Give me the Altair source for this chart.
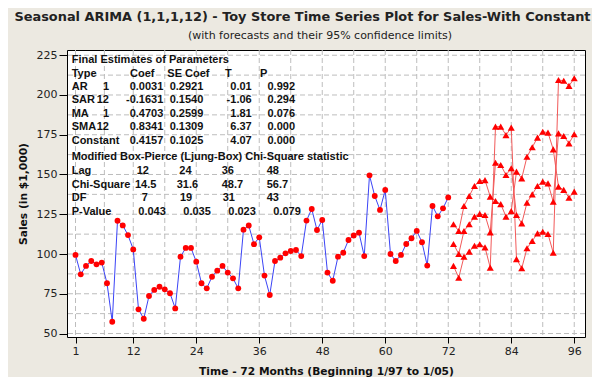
import altair as alt
import pandas as pd

# ---------------- data ----------------
months = list(range(1, 73))
sales = [99.4, 87.2, 92.5, 95.6, 93.5, 94.6, 81.6, 57.4, 120.9, 118.0, 111.9, 102.9,
         65.2, 59.3, 73.6, 77.4, 79.4, 77.8, 75.3, 65.8, 98.3, 103.8, 103.8, 95.2,
         81.6, 78.4, 85.7, 89.5, 92.5, 88.3, 84.7, 78.4, 115.3, 117.9, 106.2, 110.5,
         86.4, 74.2, 95.6, 97.7, 100.4, 101.9, 102.5, 98.7, 121.0, 128.3, 115.1, 121.4,
         88.3, 83.2, 98.3, 100.8, 108.8, 111.7, 113.4, 98.7, 149.5, 136.5, 127.7, 140.3,
         100.0, 95.6, 99.4, 106.3, 109.9, 114.5, 107.4, 92.7, 130.2, 123.7, 128.7, 135.6]

fc_months = list(range(73, 97))
upper = [118.7, 114.5, 130.2, 136.5, 142.8, 145.9, 146.5, 136.1,
         180.1, 180.1, 174.8, 179.5, 151.8, 147.6, 161.2, 167.1,
         173.2, 176.9, 176.3, 165.8, 209.4, 209.0, 205.7, 210.5]
forecast = [106.3, 100.0, 114.5, 118.7, 123.5, 125.2, 124.5, 113.6,
            157.4, 156.0, 149.7, 153.9, 124.5, 119.3, 132.3, 137.5,
            142.8, 145.5, 144.4, 132.9, 175.9, 174.2, 169.6, 175.3]
lower = [92.5, 85.1, 98.3, 101.5, 105.2, 106.1, 104.2, 91.4,
         133.3, 131.4, 123.5, 127.0, 96.8, 91.0, 103.6, 108.2,
         113.0, 114.0, 112.6, 100.8, 142.4, 140.3, 135.4, 139.2]

x_ticks = [1, 12, 24, 36, 48, 60, 72, 84, 96]
x_grid = [1, 6.5, 12, 18, 24, 30, 36, 42, 48, 54, 60, 66, 72, 78, 84, 90, 96]
y_ticks = [50, 75, 100, 125, 150, 175, 200, 225]
y_grid = [50, 62.5, 75, 87.5, 100, 112.5, 125, 137.5, 150, 162.5, 175, 187.5, 200, 212.5, 225]

title_text = "Seasonal ARIMA (1,1,1,12) - Toy Store Time Series Plot for Sales-With Constant"
subtitle_text = "(with forecasts and their 95% confidence limits)"
x_title = "Time - 72 Months (Beginning 1/97 to 1/05)"
y_title = "Sales (in $1,000)"

param_head = ["Type", "Coef", "SE Coef", "T", "P"]
param_rows = [
    ["AR", "1", "0.0031", "0.2921", "0.01", "0.992"],
    ["SAR", "12", "-0.1631", "0.1540", "-1.06", "0.294"],
    ["MA", "1", "0.4703", "0.2599", "1.81", "0.076"],
    ["SMA", "12", "0.8341", "0.1309", "6.37", "0.000"],
    ["Constant", "", "0.4157", "0.1025", "4.07", "0.000"],
]
lb_rows = [
    ["Lag", "12", "24", "36", "48"],
    ["Chi-Square", "14.5", "31.6", "48.7", "56.7"],
    ["DF", "7", "19", "31", "43"],
    ["P-Value", "0.043", "0.035", "0.023", "0.079"],
]

# ---------------- tables ----------------
hist = pd.DataFrame({"t": months, "v": sales})

# the reference connects the bands with crossing lines at the seasonal jumps
pathA = upper[0:8] + lower[8:12] + upper[12:20] + lower[20:24]
pathC = lower[0:8] + upper[8:12] + lower[12:20] + upper[20:24]
fc_lines = pd.DataFrame({
    "t": fc_months * 3,
    "v": pathA + forecast + pathC,
    "path": ["A"] * 24 + ["B"] * 24 + ["C"] * 24,
})
fc_pts = pd.DataFrame({"t": fc_months * 3, "v": upper + forecast + lower})

# ---------------- styling ----------------
FONT = "DejaVu Sans"
TFONT = "Liberation Sans"
W, H = 518, 287
xs = alt.Scale(domain=[-0.62, 98.05], nice=False, zero=False)
ys = alt.Scale(domain=[47.8, 228.3], nice=False, zero=False)

x_axis = alt.Axis(values=x_ticks, grid=False, domain=False, ticks=True, tickSize=6,
                  tickColor="#000", labelFont=FONT, labelFontSize=11, labelColor="#222",
                  labelPadding=2, labelFlush=False, labelOverlap=False,
                  title=x_title, titleFont=FONT, titleFontSize=10.7, titleFontWeight="bold",
                  titleColor="#111", titleY=34, titleBaseline="middle")
y_axis = alt.Axis(values=y_ticks, grid=False, domain=False, ticks=True, tickSize=8,
                  tickColor="#000", labelFont=FONT, labelFontSize=11, labelColor="#222",
                  labelPadding=2, labelFlush=False, labelOverlap=False,
                  title=y_title, titleFont=FONT, titleFontSize=10.7, titleFontWeight="bold",
                  titleColor="#111", titleX=-44, titleY=H / 2, titleAngle=-90,
                  titleBaseline="middle", titleAlign="center")

X = alt.X("t:Q", scale=xs, axis=x_axis)
Y = alt.Y("v:Q", scale=ys, axis=y_axis)

grid_style = dict(color="#BDBDBD", strokeDash=[5, 3], strokeWidth=1)
vgrid = alt.Chart(pd.DataFrame({"t": x_grid})).mark_rule(**grid_style).encode(x=X)
hgrid = alt.Chart(pd.DataFrame({"v": y_grid})).mark_rule(**grid_style).encode(y=Y)

blue_line = alt.Chart(hist).mark_line(color="#3B44F6", strokeWidth=1).encode(x=X, y=Y)
blue_pts = alt.Chart(hist).mark_point(filled=True, shape="circle", size=34,
                                      color="#FF0000", opacity=1).encode(x=X, y=Y)
red_lines = alt.Chart(fc_lines).mark_line(color="#F25A5A", strokeWidth=1).encode(
    x=X, y=Y, detail="path:N")
red_tri = alt.Chart(fc_pts).mark_point(filled=True, shape="triangle-up", size=50,
                                       color="#FF0000", opacity=1).encode(x=X, y=Y)

one = pd.DataFrame({"a": [0]})
OX, OY = 67, 50  # page position of plot origin


def txt(s, px, py, size=11, weight="bold", align="left", color="#111", font=TFONT):
    return alt.Chart(one).mark_text(text=s, font=font, fontSize=size, fontWeight=weight,
                                    align=align, baseline="middle", color=color).encode(
        x=alt.value(px - OX), y=alt.value(py - OY))


texts = [
    txt(title_text, 302.5, 17, size=12.9, align="center", color="#222", font=FONT),
    txt(subtitle_text, 320, 36, size=11, weight="normal", align="center", color="#222", font=FONT),
    txt("Final Estimates of Parameters", 71.7, 60),
]
# parameter table
head_x = [71.7, 130, 167.3, 225, 260]
for s, hx in zip(param_head, head_x):
    texts.append(txt(s, hx, 74))
row_y = [87, 100.3, 113.5, 127, 140.7]
for r, ry in zip(param_rows, row_y):
    texts.append(txt(r[0], 71.7, ry))
    if r[1]:
        texts.append(txt(r[1], 109, ry, align="right"))
    for s, rx in zip(r[2:], [163.3, 203.3, 251.7, 295]):
        texts.append(txt(s, rx, ry, align="right"))
# Ljung-Box table
texts.append(txt("Modified Box-Pierce (Ljung-Box) Chi-Square statistic", 71.7, 157.3))
lb_y = [170.7, 185, 198.3, 212.3]
lb_x = [[136.7, 179.3, 221.7, 266.7],
        [135, 176.7, 221.7, 266.7],
        [141.7, 180, 222.7, 266.7],
        [138.3, 183.3, 228.3, 273.3]]
for r, ry, xs_ in zip(lb_rows, lb_y, lb_x):
    texts.append(txt(r[0], 71.7, ry))
    for s, rx in zip(r[1:], xs_):
        texts.append(txt(s, rx, ry))

chart = alt.layer(vgrid, hgrid, blue_line, red_lines, red_tri, blue_pts, *texts).properties(
    width=W, height=H, background="#ECE9E1",
    padding={"left": 59, "top": 42, "right": 7, "bottom": 40},
    autosize=alt.AutoSizeParams(type="none"),
).configure_view(fill="white", stroke="#000", strokeWidth=1)

chart.save("out.html", embed_options={"renderer": "svg", "actions": False})
